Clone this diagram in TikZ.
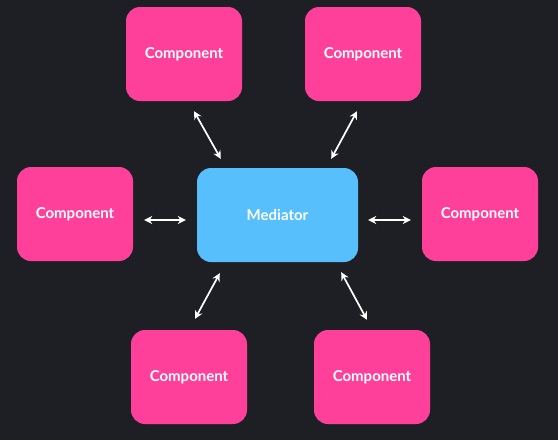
\documentclass[tikz,border=0pt]{standalone}
\usepackage{tikz}
\usetikzlibrary{arrows.meta}
\usepackage{xcolor}
\usepackage{fontspec}
\setmainfont{Lato}

\definecolor{bgdark}{HTML}{1E1F24}
\definecolor{comppink}{HTML}{FE409A}
\definecolor{medblue}{HTML}{56BFFC}

\begin{document}
\begin{tikzpicture}[>={Stealth[length=8pt,width=8pt]},x=1pt,y=-1pt,
  comp/.style={fill=comppink,rounded corners=14pt,minimum width=116pt,minimum height=94pt,text=white,font=\fontsize{15}{17}\selectfont\bfseries},
  med/.style={comp,fill=medblue,minimum width=161pt},
  link/.style={<->,white,line width=1.7pt}]

\fill[bgdark] (0,0) rectangle (558,440);
\useasboundingbox (0,0) rectangle (558,440);

\node(m) at (277.5,215)[med] {Mediator};
\node(tl) at (184,54)[comp] {Component};
\node(tr) at (363,54)[comp] {Component};
\node(l) at (75,214)[comp] {Component};
\node(r) at (480,214)[comp] {Component};
\node(bl) at (189,377)[comp] {Component};
\node(br) at (372,377)[comp] {Component};

\draw[link] ([shift={(10,10)}]tl.south) -- ([shift={(24,-9)}]m.north west);
\draw[link] ([shift={(-6,10)}]tr.south) -- ([shift={(-27,-9)}]m.north east);
\draw[link] ([shift={(11,6)}]l.east) -- ([shift={(-11,5)}]m.west);
\draw[link] ([shift={(10,5)}]m.east) -- ([shift={(-11,6)}]r.west);
\draw[link] ([shift={(6,-11)}]bl.north) -- ([shift={(23,11)}]m.south west);
\draw[link] ([shift={(-17,10)}]m.south east) -- ([shift={(-5,-10)}]br.north);

\end{tikzpicture}
\end{document}
